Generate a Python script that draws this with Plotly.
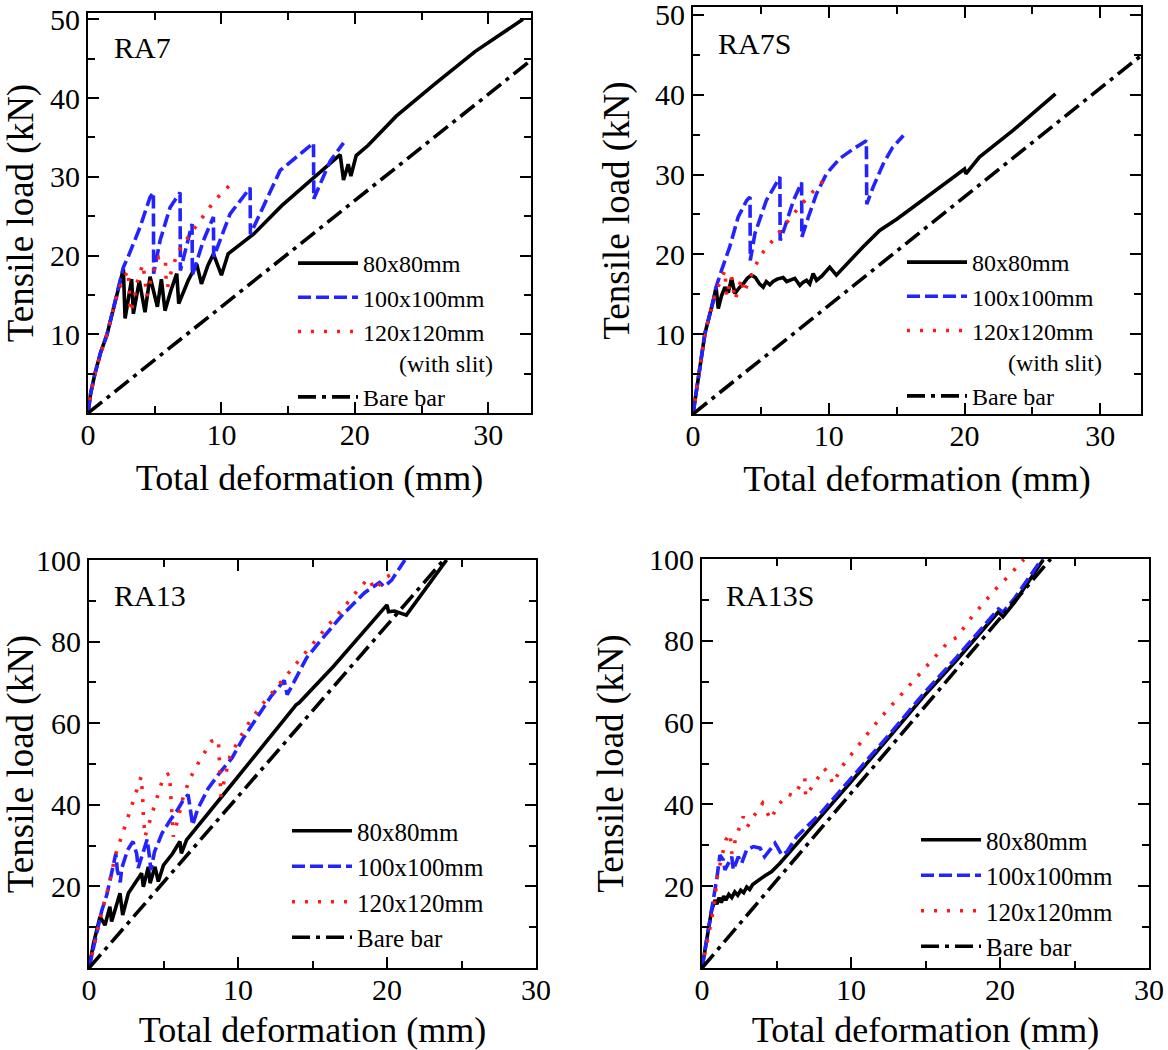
import plotly.graph_objects as go

FONT = "Liberation Serif"

# ---------------- RA7 ----------------
ra7_80_x = [0, 0.2, 0.52, 0.95, 1.43, 2.15, 2.65, 2.78, 3.27, 3.4, 3.85, 4.27, 4.65, 5.2, 5.5, 5.77, 6.2, 6.65, 6.8,
            7.5, 8.15, 8.5, 9.0, 9.4, 10.0, 10.5, 11.5, 12.4, 14.5, 16.9, 18.9, 19.15, 19.5, 19.7, 20.1, 21.0, 23.1,
            26.0, 29.0, 32.6]
ra7_80_y = [0, 2.5, 5.0, 7.7, 10.0, 15.0, 18.3, 12.0, 17.0, 12.6, 16.8, 12.8, 17.3, 13.5, 17.0, 13.0, 15.5, 17.7, 13.9,
            16.8, 18.9, 16.4, 18.8, 20.2, 17.5, 20.2, 21.5, 22.7, 26.3, 29.9, 32.8, 29.6, 31.6, 30.1, 32.7, 34.0, 37.7,
            41.8, 45.9, 50.0]
ra7_100_x = [0, 0.2, 0.52, 0.95, 1.43, 2.15, 2.65, 3.0, 3.9, 4.65, 4.9, 4.92, 5.4, 6.15, 6.9, 6.92, 7.4, 7.8, 7.82,
             8.65, 9.4, 9.42, 10.65, 12.15, 12.17, 13.1, 14.4, 16.9, 16.92, 18.15, 19.15]
ra7_100_y = [0, 2.5, 5.0, 7.7, 10.0, 15.0, 18.5, 19.8, 23.6, 27.4, 28.0, 17.7, 21.9, 26.1, 28.0, 18.1, 21.5, 24.0, 17.5,
             21.9, 24.9, 19.8, 25.3, 28.6, 22.7, 26.1, 30.8, 34.3, 27.2, 32.0, 34.3]
ra7_120_x = [0, 0.2, 0.52, 0.95, 1.43, 2.0, 2.5, 3.0, 3.1, 3.15, 3.4, 3.65, 4.1, 4.25, 4.4, 4.8, 5.3, 5.8, 5.85, 5.95,
             6.3, 6.8, 7.65, 8.6, 9.5, 10.6]
ra7_120_y = [0, 2.4, 4.9, 7.6, 10.0, 14.0, 16.6, 18.1, 15.5, 12.8, 13.9, 16.4, 18.9, 17.3, 14.8, 17.5, 19.8, 19.6, 17.0,
             15.9, 18.4, 20.6, 22.7, 24.9, 27.0, 28.9]
ra7_bare_x = [0, 33.2]
ra7_bare_y = [0, 44.8]

# ---------------- RA7S ----------------
ra7s_80_x = [0, 0.3, 0.88, 1.5, 1.7, 1.86, 2.1, 2.35, 2.6, 2.84, 3.09, 3.4, 3.7, 4.0, 4.3, 4.6, 4.9, 5.17, 5.4, 5.66,
             5.9, 6.2, 6.64, 6.9, 7.13, 7.5, 7.87, 8.1, 8.36, 8.6, 8.85, 9.1, 9.5, 10.07, 10.56, 11.3, 12.5, 13.75,
             15.0, 16.2, 17.4, 18.65, 20.0, 20.1, 21.1, 23.55, 25.0, 26.7]
ra7s_80_y = [0, 3.5, 10.1, 14.25, 15.9, 13.2, 14.8, 15.9, 15.2, 17.0, 15.1, 15.8, 16.3, 17.0, 17.4, 17.1, 16.3, 15.9,
             16.6, 16.2, 16.6, 16.9, 17.1, 16.6, 16.75, 17.0, 16.1, 16.5, 16.75, 16.3, 17.6, 16.75, 17.3, 18.4, 17.4,
             18.8, 20.9, 23.0, 24.4, 25.9, 27.4, 29.0, 30.7, 30.1, 32.2, 35.5, 37.6, 40.1]
ra7s_100_x = [0, 0.3, 0.88, 1.5, 1.7, 2.1, 2.7, 3.33, 3.95, 4.2, 4.22, 4.56, 5.4, 6.4, 6.42, 6.76, 7.4, 8.0, 8.02,
              8.5, 9.1, 9.83, 10.8, 11.8, 12.77, 12.8, 13.26, 14.0, 14.7, 15.5]
ra7s_100_y = [0, 3.5, 10.1, 14.25, 15.9, 18.0, 20.9, 24.7, 26.75, 27.2, 19.25, 22.6, 26.75, 29.7, 21.75, 23.4, 26.75,
              29.0, 22.2, 24.7, 27.6, 30.1, 32.0, 33.2, 34.25, 26.3, 28.4, 31.3, 33.4, 34.9]
ra7s_120_x = [0, 0.3, 0.88, 1.5, 1.86, 2.35, 2.47, 2.84, 3.09, 3.58, 3.75, 4.0, 4.3, 4.6, 4.93, 5.9, 6.84, 7.8, 8.85,
              9.9]
ra7s_120_y = [0, 3.5, 10.1, 14.25, 16.0, 18.0, 14.7, 17.2, 14.3, 17.0, 15.2, 16.2, 17.4, 18.6, 19.8, 21.8, 23.9, 25.9,
              27.9, 29.75]
ra7s_bare_x = [0, 33.0]
ra7s_bare_y = [0, 44.9]

# ---------------- RA13 ----------------
ra13_80_x = [0, 0.3, 0.74, 1.07, 1.4, 1.52, 2.08, 2.26, 2.64, 3.1, 3.53, 3.65, 3.98, 4.1, 4.43, 4.65, 5.0, 5.6, 6.1,
             6.2, 6.55, 9.0, 11.5, 13.9, 14.1, 16.4, 20.0, 20.1, 20.5, 21.3, 24.0]
ra13_80_y = [0, 6.0, 12.6, 10.5, 15.0, 11.4, 18.3, 13.0, 18.3, 20.8, 23.2, 19.9, 24.8, 20.8, 24.8, 21.2, 25.2, 28.0,
             31.0, 28.1, 31.4, 42.4, 53.7, 64.5, 65.0, 73.9, 89.0, 87.3, 87.5, 86.5, 100.0]
ra13_100_x = [0, 0.4, 0.85, 1.2, 1.5, 1.8, 1.9, 2.1, 2.2, 2.6, 2.95, 3.2, 3.3, 3.6, 3.9, 4.05, 4.15, 4.4, 4.9, 5.5,
              5.9, 6.3, 6.65, 6.8, 6.95, 7.3, 8.0, 8.7, 9.6, 10.3, 11.2, 12.2, 13.1, 13.3, 13.6, 14.6, 15.6, 17.0,
              18.5, 19.5, 19.8, 20.3, 21.2]
ra13_100_y = [0, 6.5, 14.0, 18.0, 23.5, 28.0, 24.0, 21.0, 24.5, 29.0, 31.0, 28.0, 24.5, 28.0, 31.5, 27.5, 24.0, 28.5,
              33.0, 36.5, 38.5, 41.0, 42.5, 39.0, 35.0, 39.0, 44.0, 47.5, 51.5, 56.0, 61.0, 66.5, 70.5, 67.0, 69.0,
              76.0, 80.5, 86.5, 92.0, 94.5, 93.5, 95.0, 100.0]
ra13_120_x = [0, 0.4, 0.8, 1.2, 1.8, 2.26, 2.7, 3.1, 3.5, 3.6, 3.65, 3.76, 4.16, 4.54, 5.0, 5.4, 5.48, 5.55, 5.66, 6.0,
              6.33, 6.78, 7.45, 8.23, 8.68, 8.75, 8.8, 8.85, 9.13, 9.46, 10.1, 10.85, 11.65, 12.55, 13.45, 14.3, 15.2,
              16.1, 17.0, 17.85, 18.75, 19.2, 19.9, 20.3]
ra13_120_y = [0, 7.0, 13.0, 18.3, 28.0, 33.0, 37.9, 42.8, 46.9, 42.0, 37.0, 32.2, 37.0, 42.0, 46.9, 47.7, 42.8, 37.9,
              32.2, 37.0, 42.0, 46.5, 51.0, 55.6, 56.0, 51.0, 46.0, 42.0, 46.9, 51.8, 56.3, 60.8, 64.7, 68.7, 72.6,
              76.5, 80.4, 84.2, 87.9, 91.8, 95.5, 92.7, 95.7, 96.5]
ra13_bare_x = [0, 23.8]
ra13_bare_y = [0, 100.0]

# ---------------- RA13S ----------------
ra13s_80_x = [0, 0.3, 0.65, 0.87, 1.0, 1.15, 1.3, 1.45, 1.6, 1.8, 2.0, 2.2, 2.4, 2.6, 2.8, 3.0, 3.2, 3.4, 3.7, 3.9,
              4.2, 4.68, 5.23, 5.9, 6.6, 8.0, 9.93, 12.6, 14.85, 17.1, 19.9, 20.2, 21.0, 22.9]
ra13s_80_y = [0, 6.5, 14.2, 16.6, 15.6, 17.2, 16.0, 17.6, 16.6, 18.0, 17.2, 18.6, 17.8, 19.0, 18.4, 19.8, 19.2, 20.4,
              21.2, 21.9, 22.5, 23.6, 25.6, 28.4, 31.3, 37.0, 45.2, 56.6, 66.3, 75.3, 87.1, 85.9, 89.5, 99.8]
ra13s_100_x = [0, 0.3, 0.6, 0.85, 1.0, 1.2, 1.43, 1.54, 2.0, 2.1, 2.44, 2.66, 3.0, 3.45, 3.9, 4.2, 4.9, 5.1, 5.35, 5.7,
               6.35, 8.0, 9.93, 12.6, 14.85, 17.1, 19.9, 20.2, 21.0, 22.9]
ra13s_100_y = [0, 6.5, 12.5, 17.5, 22.0, 27.6, 26.4, 24.0, 27.2, 24.0, 27.2, 25.6, 28.9, 29.7, 29.3, 27.2, 30.5, 29.3,
               27.6, 28.4, 32.1, 38.0, 46.0, 57.2, 67.0, 76.0, 87.8, 87.0, 90.5, 100.5]
ra13s_120_x = [0, 0.31, 0.6, 0.87, 0.98, 1.3, 1.6, 1.88, 2.0, 2.33, 2.77, 3.04, 3.45, 4.07, 4.38, 4.6, 5.12, 5.8, 6.13,
               6.9, 6.96, 7.43, 8.2, 8.55, 8.77, 9.44, 10.27, 11.16, 12.06, 12.95, 13.85, 14.8, 15.7, 16.6, 17.1, 17.9,
               18.8, 19.7, 20.7, 21.6]
ra13s_120_y = [0, 5.2, 11.0, 16.6, 21.5, 26.8, 31.3, 32.9, 28.0, 32.5, 37.0, 34.5, 37.0, 40.3, 38.2, 36.3, 39.9, 42.5,
               42.1, 46.4, 41.9, 44.5, 48.8, 47.4, 45.0, 49.5, 53.5, 57.5, 61.5, 65.1, 68.8, 72.6, 76.3, 80.0, 80.8,
               84.9, 88.8, 92.6, 96.3, 99.9]
ra13s_bare_x = [0, 23.4]
ra13s_bare_y = [0, 100.0]

panel_labels = ["RA7", "RA7S", "RA13", "RA13S"]
series_names = ["80x80mm", "100x100mm", "120x120mm", "Bare bar"]
slit_note = "(with slit)"
x_title = "Total deformation (mm)"
y_title = "Tensile load (kN)"

# styles
STYLES = [
    dict(color="black", width=3.6, dash="solid"),
    dict(color="#2323ff", width=3.6, dash="13px,5px"),
    dict(color="#ff1a1a", width=3.6, dash="3px,10px"),
    dict(color="black", width=3.6, dash="18px,6px,4px,6px"),
]

panels = [
    dict(data=[(ra7_80_x, ra7_80_y), (ra7_100_x, ra7_100_y), (ra7_120_x, ra7_120_y), (ra7_bare_x, ra7_bare_y)],
         slit=True, xr=[0, 33.2], yr=[0, 50.8], xdom=[88, 531], ydom=[13, 413],
         ytv=[10, 20, 30, 40, 50], ymin=[5, 15, 25, 35, 45], xtv=[0, 10, 20, 30], xmin=[5, 15, 25],
         leg=(293, 241), lfont=24, lab=(112, 47)),
    dict(data=[(ra7s_80_x, ra7s_80_y), (ra7s_100_x, ra7s_100_y), (ra7s_120_x, ra7s_120_y), (ra7s_bare_x, ra7s_bare_y)],
         slit=True, xr=[0, 33.0], yr=[0, 51.0], xdom=[693, 1141], ydom=[7, 414],
         ytv=[10, 20, 30, 40, 50], ymin=[5, 15, 25, 35, 45], xtv=[0, 10, 20, 30], xmin=[5, 15, 25],
         leg=(902, 240), lfont=24, lab=(716, 43)),
    dict(data=[(ra13_80_x, ra13_80_y), (ra13_100_x, ra13_100_y), (ra13_120_x, ra13_120_y), (ra13_bare_x, ra13_bare_y)],
         slit=False, xr=[0, 30], yr=[0, 100], xdom=[89, 536], ydom=[560, 968],
         ytv=[20, 40, 60, 80, 100], ymin=[10, 30, 50, 70, 90], xtv=[0, 10, 20, 30], xmin=[5, 15, 25],
         leg=(287, 808), lfont=25, lab=(112, 595)),
    dict(data=[(ra13s_80_x, ra13s_80_y), (ra13s_100_x, ra13s_100_y), (ra13s_120_x, ra13s_120_y), (ra13s_bare_x, ra13s_bare_y)],
         slit=False, xr=[0, 30], yr=[0, 100], xdom=[702, 1149], ydom=[559, 968],
         ytv=[20, 40, 60, 80, 100], ymin=[10, 30, 50, 70, 90], xtv=[0, 10, 20, 30], xmin=[5, 15, 25],
         leg=(916, 817), lfont=25, lab=(724, 595)),
]

W, H = 1168, 1050
fig = go.Figure()
layout = dict(
    width=W, height=H, margin=dict(l=0, r=0, t=0, b=0, autoexpand=False),
    paper_bgcolor="white", plot_bgcolor="white",
    font=dict(family=FONT, color="black"),
    showlegend=True, annotations=[],
)

for i, p in enumerate(panels):
    n = i + 1
    sfx = "" if n == 1 else str(n)
    xa, ya = "x" + sfx, "y" + sfx
    lg = "legend" + sfx
    for k, (xs, ys) in enumerate(p["data"]):
        name = series_names[k]
        if k == 2 and p["slit"]:
            name = name + "<br>" + "\u00a0" * 6 + slit_note
        fig.add_trace(go.Scatter(x=xs, y=ys, mode="lines", name=name, line=STYLES[k],
                                 xaxis=xa, yaxis=ya, legend=lg, showlegend=True))
    common = dict(showline=True, linecolor="black", linewidth=2, mirror="ticks", ticks="inside",
                  ticklen=11, tickwidth=1.5, tickcolor="black", showgrid=False, zeroline=False,
                  ticklabeloverflow="allow",
                  tickfont=dict(size=30, family=FONT, color="black"))
    layout["xaxis" + sfx] = dict(common, domain=[p["xdom"][0] / W, p["xdom"][1] / W], range=p["xr"],
                                 anchor=ya, tickmode="array", tickvals=p["xtv"], ticklabelstandoff=-6,
                                 minor=dict(ticks="inside", ticklen=7, tickwidth=1.5, tickcolor="black",
                                            tickmode="array", tickvals=p["xmin"], showgrid=False),
                                 title=dict(text=x_title, font=dict(size=36, family=FONT), standoff=15),
                                 automargin=False)
    layout["yaxis" + sfx] = dict(common, domain=[1 - p["ydom"][1] / H, 1 - p["ydom"][0] / H], range=p["yr"],
                                 anchor=xa, tickmode="array", tickvals=p["ytv"],
                                 minor=dict(ticks="inside", ticklen=7, tickwidth=1.5, tickcolor="black",
                                            tickmode="array", tickvals=p["ymin"], showgrid=False),
                                 title=dict(text=y_title, font=dict(size=37, family=FONT), standoff=14),
                                 automargin=False)
    lx, ly = p["leg"]
    layout[lg] = dict(x=lx / W, y=1 - ly / H, xanchor="left", yanchor="top", bgcolor="rgba(0,0,0,0)",
                      borderwidth=0, font=dict(size=p["lfont"], family=FONT, color="black"),
                      itemwidth=60, tracegroupgap=0, valign="top", traceorder="normal")
    ax_, ay_ = p["lab"]
    layout["annotations"].append(dict(text=panel_labels[i], xref="paper", yref="paper", x=ax_ / W, y=1 - ay_ / H,
                                      xanchor="left", yanchor="middle", showarrow=False,
                                      font=dict(size=30, family=FONT, color="black")))

fig.update_layout(**layout)
fig.write_html("out.html")
